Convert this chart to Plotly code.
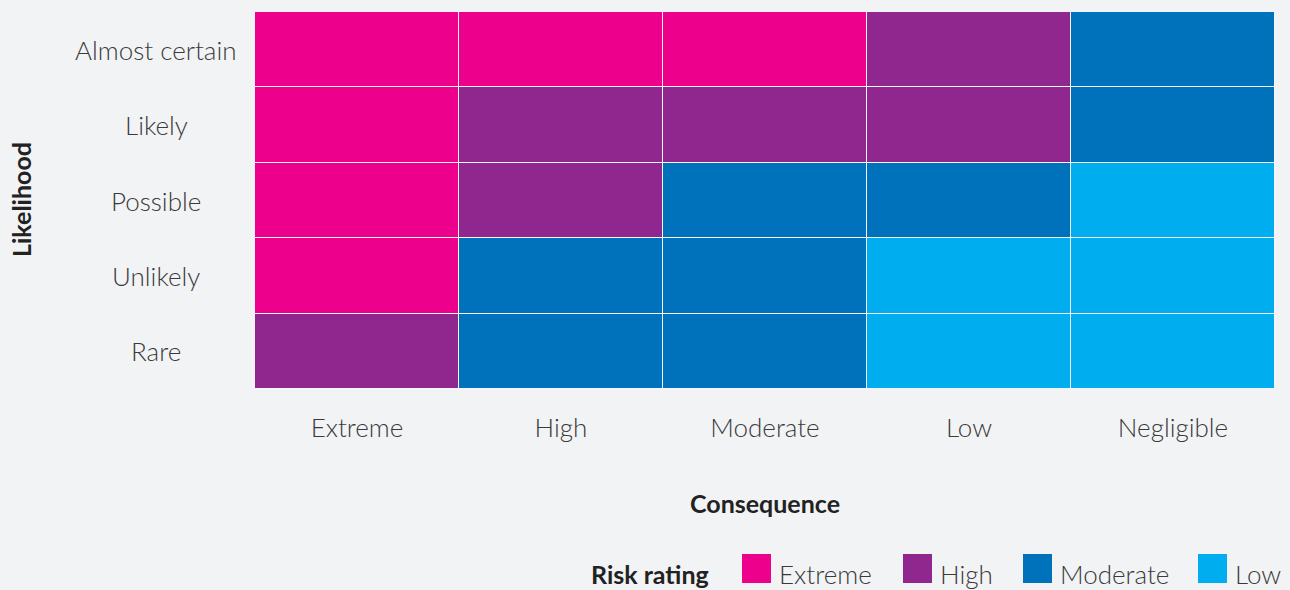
import plotly.graph_objects as go

# Data
consequence = ["Extreme", "High", "Moderate", "Low", "Negligible"]
likelihood = ["Almost certain", "Likely", "Possible", "Unlikely", "Rare"]
ratings = ["Extreme", "High", "Moderate", "Low"]
rating_colors = ["#EC008C", "#90278E", "#0072BC", "#00AEEF"]
matrix = [
    ["Extreme", "Extreme", "Extreme", "High", "Moderate"],
    ["Extreme", "High", "High", "High", "Moderate"],
    ["Extreme", "High", "Moderate", "Moderate", "Low"],
    ["Extreme", "Moderate", "Moderate", "Low", "Low"],
    ["High", "Moderate", "Moderate", "Low", "Low"],
]

W, H = 1290, 590
L, R, T, B = 255, 15, 12, 201
pw, ph = W - L - R, H - T - B

def px_x(x):
    return (x - L) / pw

def px_y(y):
    return (H - B - y) / ph

z = [[ratings.index(v) for v in row] for row in matrix]
n = len(ratings)
colorscale = []
for i, c in enumerate(rating_colors):
    colorscale.append([i / n, c])
    colorscale.append([(i + 1) / n, c])

fig = go.Figure(go.Heatmap(
    x=consequence, y=likelihood, z=z,
    zmin=-0.5, zmax=n - 0.5,
    colorscale=colorscale, showscale=False,
    xgap=1, ygap=1, hoverinfo="skip",
))

font_light = dict(family="Lato", size=26, color="#3a3a3a", weight=300)
font_bold = dict(family="Lato", size=25, color="#222222", weight=700)

fig.update_layout(
    width=W, height=H,
    margin=dict(l=L, r=R, t=T, b=B),
    paper_bgcolor="#F2F3F5", plot_bgcolor="#F7F7FA",
    showlegend=False,
    xaxis=dict(categoryorder="array", categoryarray=consequence,
               showgrid=False, zeroline=False, ticks="",
               tickfont=font_light, ticklabelstandoff=21, fixedrange=True),
    yaxis=dict(categoryorder="array", categoryarray=likelihood[::-1],
               showgrid=False, zeroline=False, ticks="",
               showticklabels=False, fixedrange=True),
)

annotations = []
for lab in likelihood:
    annotations.append(dict(x=px_x(156), xref="paper", y=lab, yref="y",
                            text=lab, showarrow=False, xanchor="center",
                            yanchor="middle", font=font_light))
annotations.append(dict(x=px_x(21), xref="paper", y=px_y(200), yref="paper",
                        text="Likelihood", textangle=-90, showarrow=False,
                        xanchor="center", yanchor="middle", font=font_bold))
annotations.append(dict(x=px_x(765), xref="paper", y=px_y(503), yref="paper",
                        text="Consequence", showarrow=False,
                        xanchor="center", yanchor="middle", font=font_bold))
annotations.append(dict(x=px_x(711), xref="paper", y=px_y(574), yref="paper",
                        text="Risk rating", showarrow=False,
                        xanchor="right", yanchor="middle", font=font_bold))

shapes = []
sq_left = [742, 903, 1023, 1198]
for lab, col, x0 in zip(ratings, rating_colors, sq_left):
    shapes.append(dict(type="rect", xref="paper", yref="paper",
                       x0=px_x(x0), x1=px_x(x0 + 29),
                       y0=px_y(583), y1=px_y(554),
                       fillcolor=col, line=dict(width=0)))
    annotations.append(dict(x=px_x(x0 + 35), xref="paper", y=px_y(574),
                            yref="paper", text=lab, showarrow=False,
                            xanchor="left", yanchor="middle", font=font_light))

fig.update_layout(annotations=annotations, shapes=shapes)
fig.write_html("out.html", config={"displayModeBar": False},
               post_script="document.body.style.margin='0';document.body.style.overflow='hidden';")
